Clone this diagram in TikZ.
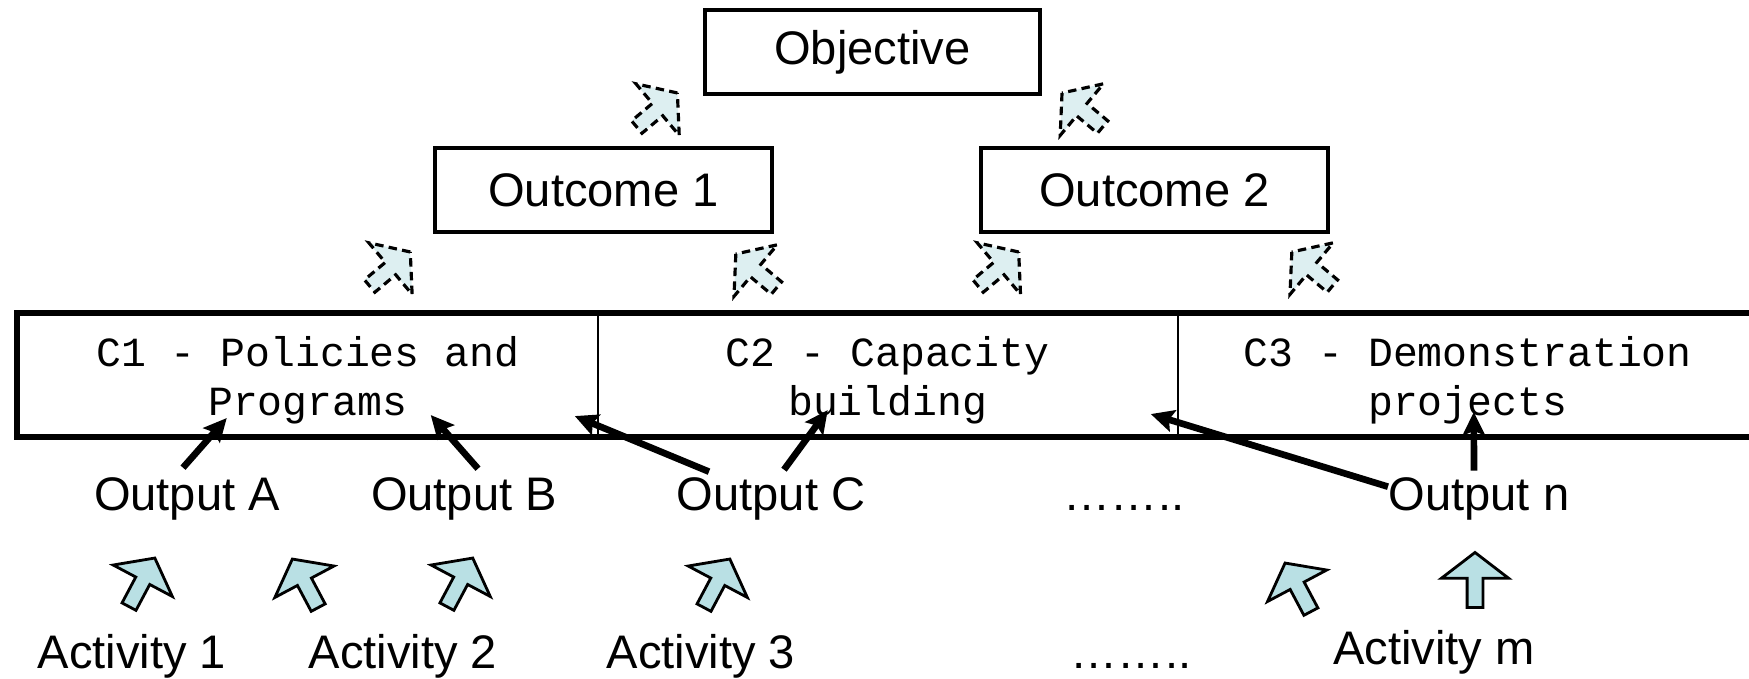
\documentclass[tikz,border=0pt]{standalone}
\usepackage{fontspec}
\setmainfont{Liberation Sans}
\newfontfamily\cellfont{Liberation Mono}
\usepackage{tikz}
\usetikzlibrary{arrows,arrows.meta,shapes.arrows}
\usetikzlibrary{positioning}

\definecolor{liftfill}{HTML}{B9E0E4}
\definecolor{risefill}{HTML}{DDEFF1}

\tikzset{
    goal/.style={
           rectangle,
           draw=black, line width=1.2pt,
           minimum height=0.84cm,
           inner sep=2pt,
           font=\fontsize{13.4}{16}\selectfont,
           text centered,
           },
    cell/.style={
           rectangle,
           draw=black, line width=0.6pt,
           minimum width=5.8cm,
           minimum height=1.22cm,
           inner sep=0pt,
           align=center,
           font=\cellfont\fontsize{11.8}{13.9}\selectfont,
           },
    band/.style={draw=black, line width=1.8pt},
    lbl/.style={
           inner sep=0pt,
           font=\fontsize{13.4}{16}\selectfont,
           },
    feed/.style={->, line width=1.9pt},
    lift/.style={
           single arrow,
           draw=black, line width=0.8pt,
           fill=liftfill,
           minimum height=0.55cm,
           minimum width=0pt,
           inner sep=0.065cm,
           single arrow head extend=0.256cm,
           single arrow tip angle=105,
           rotate=#1,
           },
    rise/.style={
           lift=#1,
           fill=risefill,
           line width=0.9pt,
           dash pattern=on 2.4pt off 1.5pt,
           minimum height=0.53cm,
           },
}

\begin{document}
\begin{tikzpicture}[>={Stealth[length=2.3mm,width=2.2mm,inset=0.4mm]}]
 \useasboundingbox (0,0) rectangle (17.49,-6.78);

 % objective and outcomes
 \node[goal, minimum width=3.35cm] (Objective) at (8.725,-0.52) {Objective};

 \node[goal,
  below of=Objective,
  node distance=1.38cm,
  xshift=-2.69cm,
  anchor=center,
  minimum width=3.37cm] (Outcome1)
 {Outcome 1};

 \node[goal,
  below of=Objective,
  node distance=1.38cm,
  xshift=2.82cm,
  anchor=center,
  minimum width=3.47cm] (Outcome2)
 {Outcome 2};

 % the three components
 \node[cell] (C1) at (3.0775,-3.75) {\rule{0pt}{11.6pt}C1 - Policies and\\Programs};
 \node[cell, right of=C1, node distance=5.8cm] (C2) {\rule{0pt}{11.6pt}C2 - Capacity\\building};
 \node[cell, right of=C2, node distance=5.8cm] (C3) {\rule{0pt}{11.6pt}C3 - Demonstration\\projects};
 \draw[band] (C1.north west) rectangle (C3.south east);

 % outputs
 \node[lbl] (OutputA) at (1.87,-4.987) {Output A};
 \node[lbl, right of=OutputA, node distance=2.77cm] (OutputB) {Output B};
 \node[lbl, right of=OutputB, node distance=3.07cm] (OutputC) {Output C};
 \node[lbl, right of=OutputC, node distance=3.53cm,
  anchor=base, yshift=-0.12cm] (OutDots) {……..};
 \node[lbl, right of=OutputC, node distance=7.08cm] (OutputN) {Output n};

 % activities
 \node[lbl, below of=OutputA, node distance=1.58cm, xshift=-0.55cm] (Activity1) {Activity 1};
 \node[lbl, right of=Activity1, node distance=2.71cm] (Activity2) {Activity 2};
 \node[lbl, right of=Activity2, node distance=2.98cm] (Activity3) {Activity 3};
 \node[lbl, right of=Activity3, node distance=4.30cm,
  anchor=base, yshift=-0.12cm] (ActDots) {……..};
 \node[lbl, below of=OutputN, node distance=1.54cm, xshift=-0.45cm] (ActivityM) {Activity m};

 % block arrows activity -> output
 \node[lift=62]  (lift1) at (1.405,-5.85) {};
 \node[lift=118] (lift2) at (3.067,-5.86) {};
 \node[lift=62]  (lift3) at (4.584,-5.85) {};
 \node[lift=62]  (lift4) at (7.155,-5.86) {};
 \node[lift=118] (lift5) at (12.994,-5.90) {};
 \node[lift=90]  (lift6) at (14.750,-5.83) {};

 % dashed block arrows up the chain
 \node[rise=40]  (rise1) at (6.547,-1.12) {};
 \node[rise=140] (rise2) at (10.847,-1.12) {};
 \node[rise=40]  (rise3) at (3.876,-2.71) {};
 \node[rise=140] (rise4) at (7.585,-2.73) {};
 \node[rise=40]  (rise5) at (9.960,-2.71) {};
 \node[rise=140] (rise6) at (13.145,-2.71) {};

 % outputs feeding the components
 \draw[feed] ([xshift=-0.04cm,yshift=0.09cm]OutputA.north) -- ([xshift=-0.81cm,yshift=0.19cm]C1.south);
 \draw[feed] ([xshift=0.14cm,yshift=0.08cm]OutputB.north) -- ([xshift=1.23cm,yshift=0.22cm]C1.south);
 \draw[feed] ([xshift=-0.62cm,yshift=0.05cm]OutputC.north) -- ([xshift=-0.24cm,yshift=0.21cm]C1.south east);
 \draw[feed] ([xshift=0.13cm,yshift=0.07cm]OutputC.north) -- ([xshift=-0.60cm,yshift=0.27cm]C2.south);
 \draw[feed] ([yshift=-0.10cm]OutputN.north west) -- ([xshift=-0.28cm,yshift=0.23cm]C2.south east);
 \draw[feed] ([xshift=-0.05cm,yshift=0.06cm]OutputN.north) -- ([xshift=0.06cm,yshift=0.25cm]C3.south);

\end{tikzpicture}
\end{document}
